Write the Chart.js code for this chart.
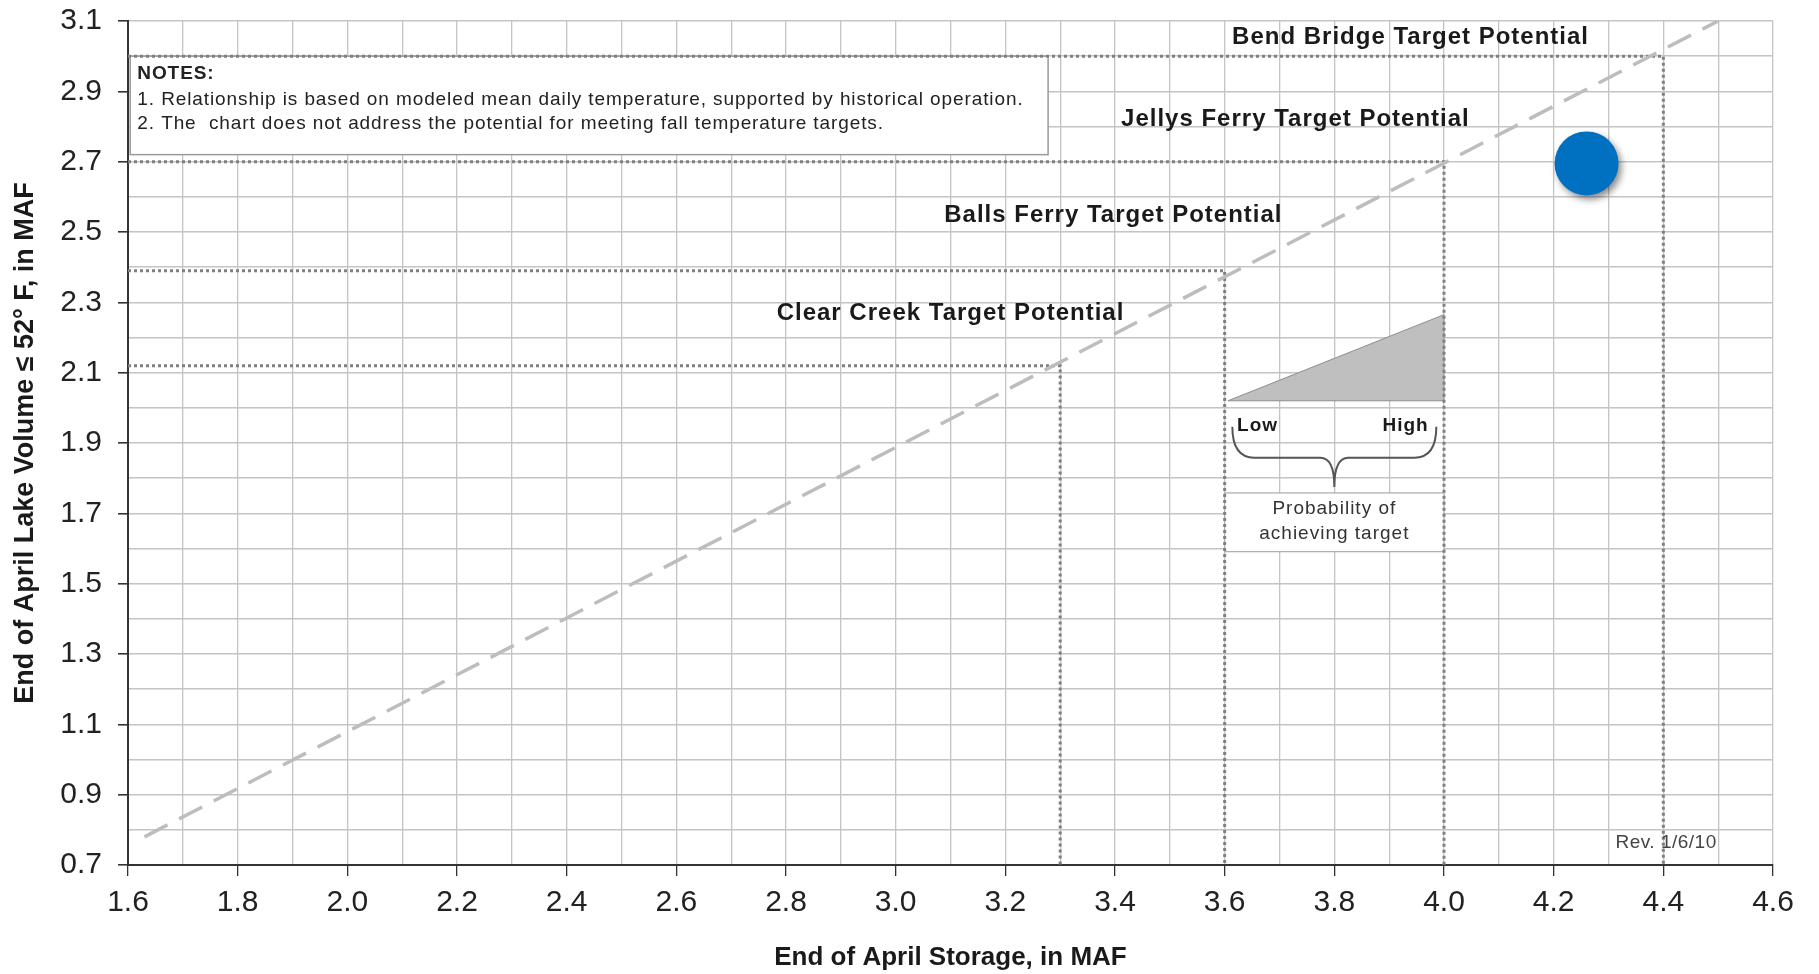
<!DOCTYPE html>
<html>
<head>
<meta charset="utf-8">
<script src="https://cdn.jsdelivr.net/npm/chart.js@4.4.1/dist/chart.umd.min.js"></script>
<style>
  html, body { margin: 0; padding: 0; background: #fff; }
  #wrap { width: 1819px; height: 974px; }
</style>
</head>
<body>
<div id="wrap"><canvas id="myChart"></canvas></div>
<script>
// tick labels
const xTicks = ['1.6','1.8','2.0','2.2','2.4','2.6','2.8','3.0','3.2','3.4','3.6','3.8','4.0','4.2','4.4','4.6'];
const yTicks = ['0.7','0.9','1.1','1.3','1.5','1.7','1.9','2.1','2.3','2.5','2.7','2.9','3.1'];

// relationship line: end of April storage vs lake volume <= 52F
const curveX = [1.63, 4.5];
const curveY = [0.78, 3.1];

// target potentials
const targetNames = ['Clear Creek Target Potential', 'Balls Ferry Target Potential', 'Jellys Ferry Target Potential', 'Bend Bridge Target Potential'];
const targetX = [3.3, 3.6, 4.0, 4.4];
const targetY = [2.12, 2.39, 2.70, 3.00];

// current year point
const currentX = [4.26];
const currentY = [2.695];

// probability wedge (low -> high)
const wedgeX = [3.606, 4.0, 4.0, 3.606];
const wedgeY = [2.02, 2.02, 2.265, 2.02];

const notesLines = [
  'NOTES:',
  '1. Relationship is based on modeled mean daily temperature, supported by historical operation.',
  '2. The  chart does not address the potential for meeting fall temperature targets.'
];
const probLines = ['Probability of', 'achieving target'];
const revText = 'Rev. 1/6/10';

const pts = (xs, ys) => xs.map((x, i) => ({x: x, y: ys[i]}));

// where the annotation bits sit, in axis units
const place = {
  labels: [[3.10, 2.27], [3.397, 2.546], [3.729, 2.82], [3.939, 3.054]],
  notesBox: [1.604, 3.278, 3.0, 2.72],
  notesText: [1.617, [2.949, 2.876, 2.808]],
  probBox: [3.6, 4.0, 1.758, 1.591],
  probText: [3.8, [1.712, 1.643]],
  low: [3.66, 1.95],
  high: [3.93, 1.95],
  brace: [3.614, 3.986, 3.8, 1.946, 1.858, 1.775],
  rev: [4.405, 0.764]
};

const DOT = 0;
const FONT = '"Liberation Sans", Arial, sans-serif';

const sketch = {
  id: 'sketch',
  beforeDatasetsDraw(chart) {
    const ctx = chart.ctx, sx = chart.scales.x, sy = chart.scales.y;
    ctx.save();
    let [x0, x1, y0, y1] = place.notesBox;
    let l = sx.getPixelForValue(x0), r = sx.getPixelForValue(x1);
    let t = sy.getPixelForValue(y0), b = sy.getPixelForValue(y1);
    ctx.fillStyle = '#fff';
    ctx.fillRect(l, t, r - l, b - t);
    ctx.strokeStyle = '#9a9a9a';
    ctx.lineWidth = 1.5;
    ctx.strokeRect(l, t, r - l, b - t);

    [x0, x1, y0, y1] = place.probBox;
    l = sx.getPixelForValue(x0); r = sx.getPixelForValue(x1);
    t = sy.getPixelForValue(y0); b = sy.getPixelForValue(y1);
    ctx.fillStyle = '#fff';
    ctx.fillRect(l, t, r - l, b - t);
    ctx.strokeStyle = '#aaa';
    ctx.lineWidth = 1.2;
    ctx.strokeRect(l, t, r - l, b - t);
    ctx.restore();
  },
  beforeDatasetDraw(chart, args) {
    if (args.index === DOT) {
      const ctx = chart.ctx;
      ctx.save();
      ctx.shadowColor = 'rgba(0,0,0,0.45)';
      ctx.shadowBlur = 7;
      ctx.shadowOffsetX = 3;
      ctx.shadowOffsetY = 4;
    }
  },
  afterDatasetDraw(chart, args) {
    if (args.index === DOT) chart.ctx.restore();
  },
  afterDatasetsDraw(chart) {
    const ctx = chart.ctx, sx = chart.scales.x, sy = chart.scales.y;
    const px = v => sx.getPixelForValue(v), py = v => sy.getPixelForValue(v);
    ctx.save();
    ctx.textBaseline = 'middle';

    // target labels
    ctx.fillStyle = '#1a1a1a';
    ctx.font = 'bold 24px ' + FONT;
    ctx.letterSpacing = '1px';
    ctx.textAlign = 'center';
    targetNames.forEach((name, i) => {
      ctx.fillText(name, px(place.labels[i][0]), py(place.labels[i][1]));
    });

    // notes
    ctx.textAlign = 'left';
    ctx.fillStyle = '#222';
    ctx.letterSpacing = '0.9px';
    notesLines.forEach((line, i) => {
      ctx.font = (i === 0 ? 'bold ' : '') + '19px ' + FONT;
      ctx.fillText(line, px(place.notesText[0]), py(place.notesText[1][i]));
    });

    // probability box text
    ctx.textAlign = 'center';
    ctx.fillStyle = '#333';
    ctx.font = '19px ' + FONT;
    ctx.letterSpacing = '1px';
    probLines.forEach((line, i) => {
      ctx.fillText(line, px(place.probText[0]), py(place.probText[1][i]));
    });

    ctx.font = 'bold 19px ' + FONT;
    ctx.fillStyle = '#1a1a1a';
    ctx.fillText('Low', px(place.low[0]), py(place.low[1]));
    ctx.fillText('High', px(place.high[0]), py(place.high[1]));

    // brace
    const [bl, br, bc, bt, bm, bb] = place.brace;
    const L = px(bl), R = px(br), C = px(bc), T = py(bt), M = py(bm), B = py(bb);
    ctx.strokeStyle = '#555';
    ctx.lineWidth = 2;
    ctx.beginPath();
    ctx.moveTo(L, T);
    ctx.quadraticCurveTo(L, M, L + 22, M);
    ctx.lineTo(C - 14, M);
    ctx.quadraticCurveTo(C, M, C, B);
    ctx.moveTo(R, T);
    ctx.quadraticCurveTo(R, M, R - 22, M);
    ctx.lineTo(C + 14, M);
    ctx.quadraticCurveTo(C, M, C, B);
    ctx.stroke();

    // revision
    ctx.font = '19px ' + FONT;
    ctx.letterSpacing = '0.5px';
    ctx.fillStyle = '#444';
    ctx.fillText(revText, px(place.rev[0]), py(place.rev[1]));
    ctx.restore();
  }
};

const dotted = (i) => ({
  data: [{x: 1.6, y: targetY[i]}, {x: targetX[i], y: targetY[i]}, {x: targetX[i], y: 0.7}],
  showLine: true,
  borderColor: '#808080',
  borderWidth: 3,
  borderDash: [3, 3],
  pointRadius: 0,
  fill: false
});

const ctx1 = document.getElementById('myChart');

const chart = new Chart(ctx1, {
  type: 'scatter',
  data: {
    datasets: [
      {
        data: pts(currentX, currentY),
        pointRadius: 32,
        pointHoverRadius: 32,
        backgroundColor: '#0070c0',
        borderWidth: 0
      },
      {
        data: pts(curveX, curveY),
        showLine: true,
        borderColor: '#bdbdbd',
        borderWidth: 3.5,
        borderDash: [26, 13],
        pointRadius: 0
      },
      dotted(0), dotted(1), dotted(2), dotted(3),
      {
        data: pts(wedgeX, wedgeY),
        showLine: true,
        fill: 'shape',
        backgroundColor: '#bfbfbf',
        borderColor: '#8c8c8c',
        borderWidth: 1,
        pointRadius: 0
      }
    ]
  },
  options: {
    responsive: true,
    maintainAspectRatio: false,
    animation: false,
    layout: { autoPadding: false, padding: { top: 21, right: 46, left: 0, bottom: 0 } },
    plugins: { legend: { display: false }, tooltip: { enabled: false } },
    scales: {
      x: {
        type: 'linear',
        min: 1.6,
        max: 4.6,
        afterFit: (scale) => { scale.height = 109; },
        ticks: {
          stepSize: 0.1,
          autoSkip: false,
          maxRotation: 0,
          padding: 9,
          color: '#222',
          font: { size: 30, family: FONT },
          callback: (v) => xTicks.includes(v.toFixed(1)) ? v.toFixed(1) : ''
        },
        grid: {
          color: '#c4c4c4',
          lineWidth: 1.3,
          tickLength: 11,
          tickColor: (c) => (c.tick && xTicks.includes(c.tick.value.toFixed(1))) ? '#333' : 'rgba(0,0,0,0)'
        },
        border: { color: '#333', width: 2 },
        title: {
          display: true,
          text: 'End of April Storage, in MAF',
          color: '#1a1a1a',
          font: { size: 26, weight: 'bold', family: FONT },
          padding: { top: 0, bottom: 1 }
        }
      },
      y: {
        type: 'linear',
        min: 0.7,
        max: 3.1,
        afterFit: (scale) => { scale.width = 128; scale.paddingTop = 0; scale.paddingBottom = 0; },
        ticks: {
          stepSize: 0.1,
          autoSkip: false,
          padding: 16,
          color: '#222',
          font: { size: 30, family: FONT },
          callback: (v) => yTicks.includes(v.toFixed(1)) ? v.toFixed(1) : ''
        },
        grid: {
          color: '#c4c4c4',
          lineWidth: 1.6,
          tickLength: 10,
          tickColor: (c) => (c.tick && yTicks.includes(c.tick.value.toFixed(1))) ? '#333' : 'rgba(0,0,0,0)'
        },
        border: { color: '#333', width: 2 },
        title: {
          display: true,
          text: 'End of April Lake Volume \u2264 52\u00b0 F, in MAF',
          color: '#1a1a1a',
          font: { size: 27, weight: 'bold', family: FONT },
          padding: { top: 9, bottom: 0 }
        }
      }
    }
  },
  plugins: [sketch]
});
</script>
</body>
</html>
